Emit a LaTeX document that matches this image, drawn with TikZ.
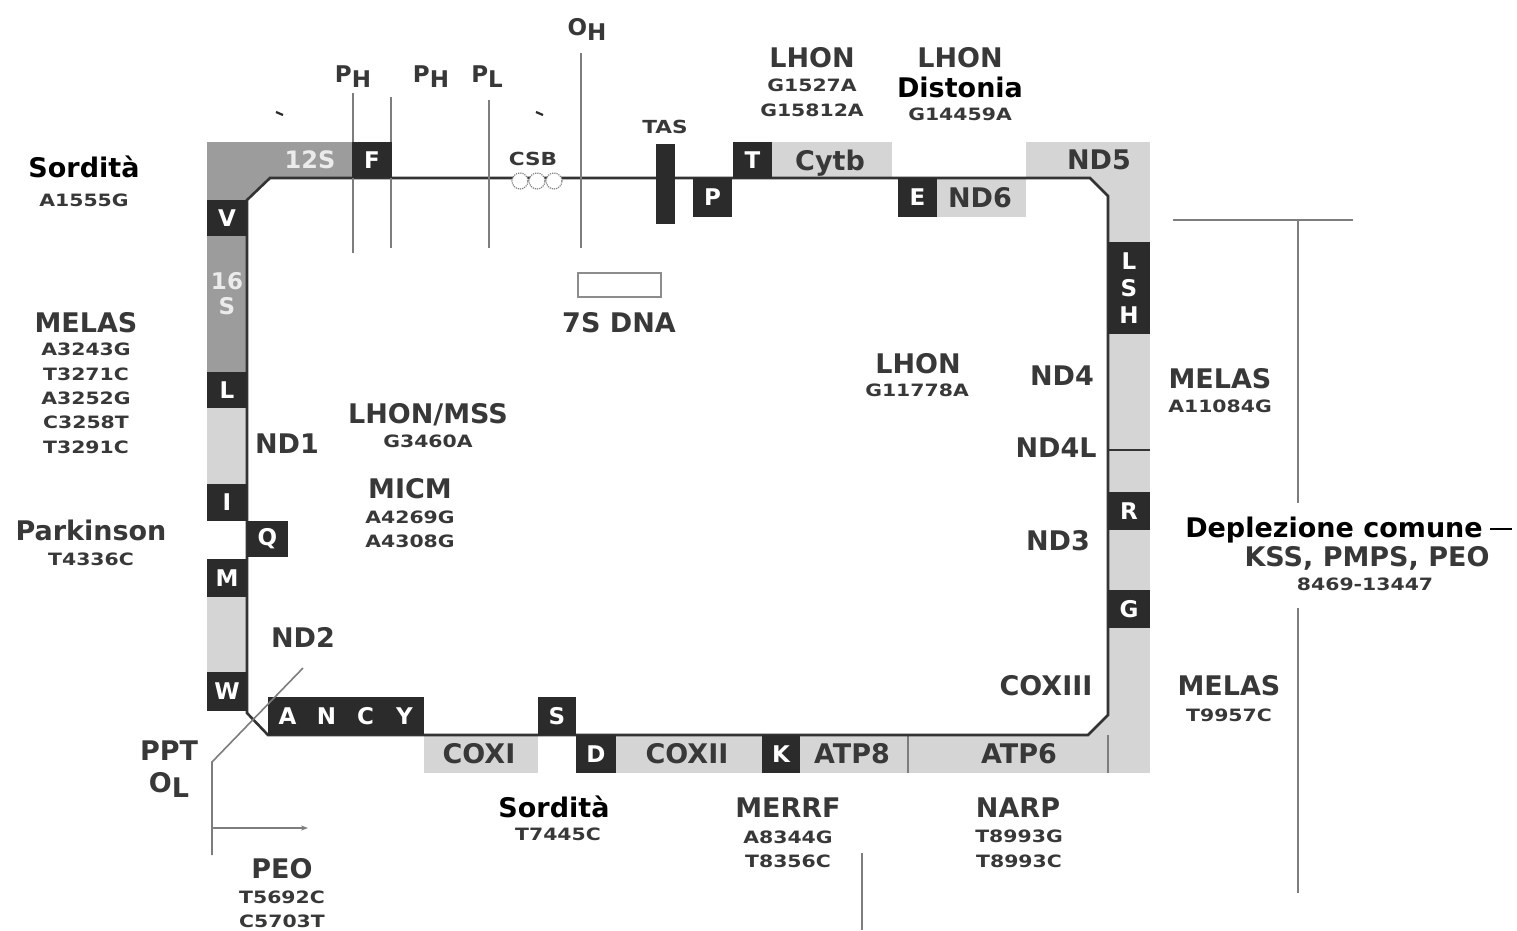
\documentclass[tikz,border=0pt]{standalone}
\usepackage{fontspec}
\setmainfont{DejaVu Sans}
\newfontfamily\codefont{DejaVu Sans}[FakeStretch=1.2]
\usetikzlibrary{arrows.meta}
\definecolor{boxdark}{HTML}{2B2B2B}
\definecolor{genegrey}{HTML}{D5D5D5}
\definecolor{rrnagrey}{HTML}{9C9C9C}
\definecolor{labgrey}{HTML}{383838}
\definecolor{linegrey}{HTML}{7D7D7D}
\definecolor{ringdark}{HTML}{333333}
\newcommand{\labsize}{\fontsize{27}{29}\selectfont\bfseries}
\newcommand{\mutsize}{\codefont\fontsize{17}{20}\selectfont\bfseries}
\newcommand{\boxsize}{\fontsize{23}{27}\selectfont\bfseries}
\newcommand{\blksize}{\fontsize{27}{29}\selectfont\bfseries}
\newcommand{\sublow}[1]{\raisebox{-5pt}{#1}}
\newcommand{\trnabox}[6]{%
  \node[trna,minimum width={(#4-#2)*1pt},minimum height={(#5-#3)*1pt}]
        (#1) at ({(#2+#4)/2},{(#3+#5)/2}) {#6};
}

\begin{document}
\begin{tikzpicture}[x=1pt,y=-1pt,
  dis/.style={font=\labsize,text=labgrey,inner sep=0pt,anchor=base},
  mut/.style={font=\mutsize,text=labgrey,inner sep=0pt,anchor=base},
  blk/.style={font=\blksize,text=black,inner sep=0pt,anchor=base},
  trna/.style={fill=boxdark,text=white,font=\boxsize,inner sep=0pt,align=center},
  guide/.style={draw=linegrey,line width=1.6pt},
  ringline/.style={draw=ringdark,line width=2.6pt,line join=miter}]
  \useasboundingbox (0,0) rectangle (1517,930);
  \fill[white] (0,0) rectangle (1517,930);

  % rRNA and protein coding regions
  \fill[rrnagrey] (207,142) -- (352,142) -- (352,178) -- (270,178) -- (247,200) -- (207,200) -- cycle;
  \fill[rrnagrey] (207,236) rectangle (247,372);
  \fill[genegrey] (207,408) rectangle (247,484);
  \fill[genegrey] (207,597) rectangle (247,672);
  \fill[genegrey] (424,735) rectangle (538,773);
  \fill[genegrey] (576,735) rectangle (1150,773);
  \fill[genegrey] (772,142) rectangle (892,178);
  \fill[genegrey] (937,178) rectangle (1026,217);
  \fill[genegrey] (1026,142) rectangle (1150,178);
  \fill[genegrey] (1108,142) rectangle (1150,773);
  \fill[genegrey] (1088,178) -- (1108,178) -- (1108,198) -- cycle;
  \fill[genegrey] (1088,735) -- (1108,715) -- (1108,735) -- cycle;
  \draw[linegrey,line width=1.4pt] (908,735) -- (908,773);
  \draw[linegrey,line width=1.4pt] (1108,735) -- (1108,773);

  % the genome ring
  \draw[ringline] (270,178) -- (1090,178) -- (1108,196) -- (1108,715) -- (1088,735)
        -- (268,735) -- (247,713) -- (247,200) -- cycle;
  \draw[ringdark,line width=2pt] (1108,450) -- (1150,450);

  % promoters and origins
  \draw[guide] (353,93) -- (353,253);
  \draw[guide] (391,97) -- (391,248);
  \draw[guide] (489,100) -- (489,248);
  \draw[guide] (581,53) -- (581,248);
  \draw[boxdark,line width=2.2pt] (276,112) -- (283,115);
  \draw[boxdark,line width=2.2pt] (536,112) -- (543,115);
  \foreach \cx in {520,537,554}
    \draw[black!50,fill=white,line width=1.2pt,densely dotted] (\cx,181) circle (8pt);
  \draw[black!45,fill=white,line width=1.5pt] (578,273) rectangle (661,297);

  % tRNA boxes
  \trnabox{trnF}{352}{142}{392}{178}{F}
  \trnabox{trnV}{207}{200}{247}{236}{V}
  \trnabox{trnL1}{207}{372}{247}{408}{L}
  \trnabox{trnI}{207}{484}{247}{521}{I}
  \trnabox{trnQ}{247}{521}{288}{557}{Q}
  \trnabox{trnM}{207}{559}{247}{597}{M}
  \trnabox{trnW}{207}{672}{247}{711}{W}
  \trnabox{trnANCY}{268}{697}{424}{735}{\makebox[39pt]{A}\makebox[39pt]{N}\makebox[39pt]{C}\makebox[39pt]{Y}}
  \trnabox{trnS1}{538}{697}{576}{735}{S}
  \trnabox{trnD}{576}{735}{616}{773}{D}
  \trnabox{trnK}{762}{735}{800}{773}{K}
  \trnabox{trnG}{1108}{590}{1150}{628}{G}
  \trnabox{trnR}{1108}{492}{1150}{530}{R}
  \trnabox{trnLSH}{1108}{242}{1150}{334}{L\\S\\H}
  \trnabox{trnE}{898}{178}{937}{217}{E}
  \trnabox{trnT}{733}{142}{772}{178}{T}
  \trnabox{trnP}{693}{178}{732}{217}{P}
  \trnabox{tas}{656}{144}{675}{224}{}

  % labels on the ring
  \node[font=\fontsize{24}{27}\selectfont\bfseries,text=white!92!black] (rrna12) at (310,160) {12S};
  \node[font=\fontsize{23}{25}\selectfont\bfseries,text=white!92!black,align=center] (rrna16) at (227,294) {16\\S};
  \node[dis] (cytb) at (830,170) {Cytb};
  \node[dis] (nd5) at (1099,169) {ND5};
  \node[dis] (nd6) at (980,207) {ND6};
  \node[dis] (nd1) at (287,453) {ND1};
  \node[dis] (nd2) at (303,647) {ND2};
  \node[dis] (nd4) at (1062,385) {ND4};
  \node[dis] (nd4l) at (1056,457) {ND4L};
  \node[dis] (nd3) at (1058,550) {ND3};
  \node[dis] (cox3) at (1046,695) {COXIII};
  \node[dis] (cox1) at (479,763) {COXI};
  \node[dis] (cox2) at (687,763) {COXII};
  \node[dis] (atp8) at (852,763) {ATP8};
  \node[dis] (atp6) at (1019,763) {ATP6};
  \node[mut,font=\codefont\fontsize{18}{20}\selectfont\bfseries] (taslab) at (665,133) {TAS};
  \node[mut,font=\codefont\fontsize{18}{20}\selectfont\bfseries] (csb) at (533,165) {CSB};
  \node[dis,font=\fontsize{23}{25}\selectfont\bfseries] (ph1) at (353,82) {P\sublow{H}};
  \node[dis,font=\fontsize{23}{25}\selectfont\bfseries] (ph2) at (431,82) {P\sublow{H}};
  \node[dis,font=\fontsize{23}{25}\selectfont\bfseries] (pl) at (487,82) {P\sublow{L}};
  \node[dis,font=\fontsize{23}{25}\selectfont\bfseries] (oh) at (587,35) {O\sublow{H}};
  \node[dis] (sevens) at (619,332) {7S DNA};

  % diseases and mutations
  \node[dis] (lhonT) at (812,67) {LHON};
  \node[mut] (lhonT1) at (812,91) {G1527A};
  \node[mut] (lhonT2) at (812,116) {G15812A};
  \node[dis] (lhonE) at (960,67) {LHON};
  \node[blk] (dist) at (960,97) {Distonia};
  \node[mut] (lhonE1) at (960,120) {G14459A};
  \node[blk] (sordA) at (84,177) {Sordità};
  \node[mut] (sordA1) at (84,206) {A1555G};
  \node[dis] (melasL) at (86,332) {MELAS};
  \node[mut] (melasL1) at (86,355) {A3243G};
  \node[mut] (melasL2) at (86,380) {T3271C};
  \node[mut] (melasL3) at (86,404) {A3252G};
  \node[mut] (melasL4) at (86,428) {C3258T};
  \node[mut] (melasL5) at (86,453) {T3291C};
  \node[dis] (park) at (91,540) {Parkinson};
  \node[mut] (park1) at (91,565) {T4336C};
  \node[dis] (lhonM) at (428,423) {LHON/MSS};
  \node[mut] (lhonM1) at (428,447) {G3460A};
  \node[dis] (micm) at (410,498) {MICM};
  \node[mut] (micm1) at (410,523) {A4269G};
  \node[mut] (micm2) at (410,547) {A4308G};
  \node[dis] (lhonC) at (918,373) {LHON};
  \node[mut] (lhonC1) at (917,396) {G11778A};
  \node[dis] (melasR) at (1220,388) {MELAS};
  \node[mut] (melasR1) at (1220,412) {A11084G};
  \node[blk] (depl) at (1334,537) {Deplezione comune};
  \node[dis] (kss) at (1367,566) {KSS, PMPS, PEO};
  \node[mut] (kss1) at (1365,590) {8469-13447};
  \node[dis] (melasB) at (1229,695) {MELAS};
  \node[mut] (melasB1) at (1229,721) {T9957C};
  \node[dis] (narp) at (1018,817) {NARP};
  \node[mut] (narp1) at (1019,842) {T8993G};
  \node[mut] (narp2) at (1019,867) {T8993C};
  \node[dis] (merrf) at (788,817) {MERRF};
  \node[mut] (merrf1) at (788,843) {A8344G};
  \node[mut] (merrf2) at (788,867) {T8356C};
  \node[blk] (sordB) at (554,817) {Sordità};
  \node[mut] (sordB1) at (558,840) {T7445C};
  \node[dis] (ppt) at (169,760) {PPT};
  \node[dis] (ol) at (169,792) {O\sublow{L}};
  \node[dis] (peo) at (282,878) {PEO};
  \node[mut] (peo1) at (282,903) {T5692C};
  \node[mut] (peo2) at (282,927) {C5703T};

  % deletion and light strand lines
  \draw[guide] (1173,220) -- (1353,220);
  \draw[guide] (1298,220) -- (1298,503);
  \draw[guide] (1298,608) -- (1298,893);
  \draw[black,line width=2.6pt] (1490,529) -- (1512,529);
  \draw[guide] (862,853) -- (862,930);
  \draw[guide] (303,668) -- (212,762) -- (212,855);
  \draw[guide,-{Stealth[length=7pt,width=5pt]}] (212,828) -- (308,828);
\end{tikzpicture}
\end{document}
